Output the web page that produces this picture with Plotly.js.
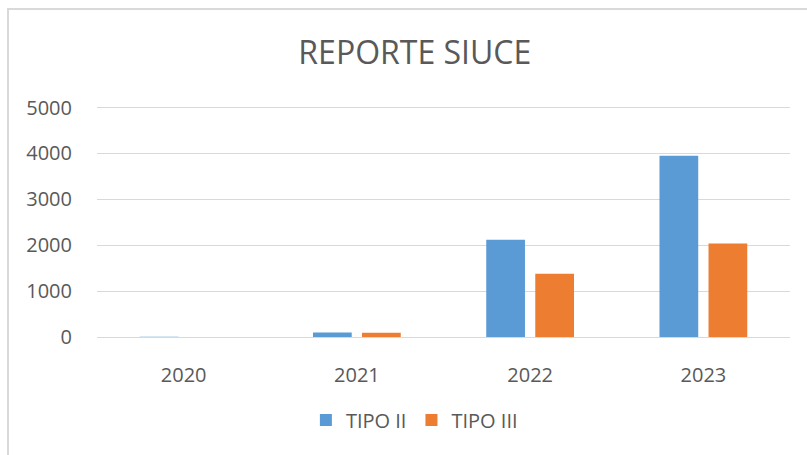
<!DOCTYPE html>
<html>
<head>
<meta charset="utf-8">
<script src="https://cdn.plot.ly/plotly-3.0.1.min.js"></script>
<style>
  html, body { margin: 0; padding: 0; background: #fff; }
  #wrap { position: relative; width: 807px; height: 455px; overflow: hidden; }
  #chart { position: absolute; left: 0; top: 0; width: 807px; height: 455px; }
  #frame { position: absolute; left: 7px; top: 8px; width: 900px; height: 600px;
           border-left: 2px solid #d9d9d9; border-top: 2px solid #d9d9d9; pointer-events: none; }
</style>
</head>
<body>
<div id="wrap">
  <div id="chart"></div>
  <div id="frame"></div>
</div>
<script>
const categories = ["2020", "2021", "2022", "2023"];
const tipoII = [4, 100, 2120, 3950];
const tipoIII = [0, 95, 1380, 2040];
const yTicks = [0, 1000, 2000, 3000, 4000, 5000];

const font = "'Open Sans', 'Noto Sans', sans-serif";
const textColor = "#595959";

const data = [
  { type: "bar", name: "TIPO II", x: categories, y: tipoII,
    marker: { color: "#5B9BD5" }, hoverinfo: "none" },
  { type: "bar", name: "TIPO III", x: categories, y: tipoIII,
    marker: { color: "#ED7D31" }, hoverinfo: "none" }
];

const layout = {
  width: 807, height: 455,
  paper_bgcolor: "#ffffff", plot_bgcolor: "#ffffff",
  margin: { l: 97, r: 17, t: 103, b: 118, pad: 0 },
  font: { family: font, color: textColor, size: 20 },
  title: {
    text: "REPORTE SIUCE",
    font: { family: font, size: 32, color: textColor },
    x: 0.514, xref: "container", xanchor: "center",
    y: 0.883, yref: "container", yanchor: "middle"
  },
  barmode: "group",
  bargap: 0.434,
  bargroupgap: 0.21,
  xaxis: {
    type: "category",
    showgrid: false, zeroline: false,
    showline: true, linecolor: "#d9d9d9", linewidth: 1,
    ticks: "", ticklabelstandoff: 20,
    tickfont: { family: font, size: 20, color: textColor }
  },
  yaxis: {
    range: [0, 5100], tickvals: yTicks, ticktext: yTicks.map(String),
    showgrid: true, gridcolor: "#d9d9d9", gridwidth: 1,
    zeroline: false, showline: false,
    ticks: "", ticklabelstandoff: 24,
    tickfont: { family: font, size: 20, color: textColor }
  },
  showlegend: true,
  legend: {
    orientation: "h",
    x: 0.458, xanchor: "center",
    y: -0.355, yanchor: "middle",
    font: { family: font, size: 20, color: textColor },
    itemwidth: 30,
    traceorder: "normal"
  }
};

Plotly.newPlot("chart", data, layout, { displayModeBar: false, staticPlot: true });
</script>
</body>
</html>
